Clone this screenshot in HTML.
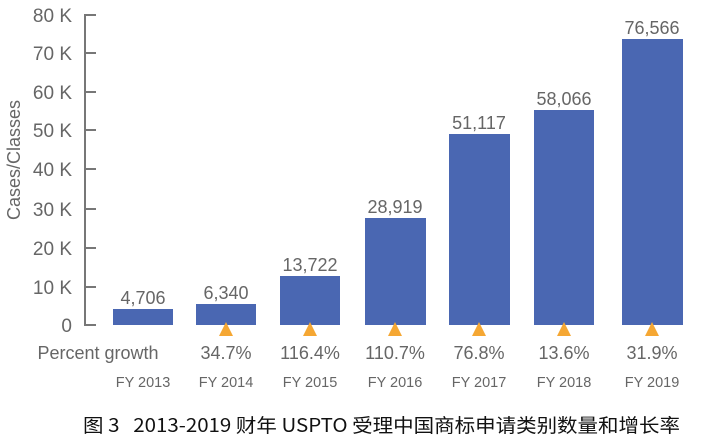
<!DOCTYPE html>
<html><head><meta charset="utf-8"><style>html,body{margin:0;padding:0;background:#fff}svg{display:block}</style></head>
<body>
<svg width="703" height="442" viewBox="0 0 703 442" xmlns="http://www.w3.org/2000/svg">
<g stroke="#777" stroke-width="2">
<line x1="85" y1="14" x2="85" y2="326"/>
<line x1="85" y1="15" x2="96" y2="15"/>
<line x1="85" y1="53" x2="96" y2="53"/>
<line x1="85" y1="92" x2="96" y2="92"/>
<line x1="85" y1="130" x2="96" y2="130"/>
<line x1="85" y1="169" x2="96" y2="169"/>
<line x1="85" y1="209" x2="96" y2="209"/>
<line x1="85" y1="248" x2="96" y2="248"/>
<line x1="85" y1="287" x2="96" y2="287"/>
<line x1="85" y1="325" x2="96" y2="325"/>
</g>
<g font-family="Liberation Sans, sans-serif" font-size="19" fill="#666" text-anchor="end">
<text x="72" y="22">80 K</text><text x="72" y="60">70 K</text><text x="72" y="99">60 K</text>
<text x="72" y="137">50 K</text><text x="72" y="176">40 K</text><text x="72" y="216">30 K</text>
<text x="72" y="255">20 K</text><text x="72" y="294">10 K</text><text x="72" y="332">0</text>
</g>
<text transform="translate(20,160) rotate(-90)" font-family="Liberation Sans, sans-serif" font-size="18" fill="#666" text-anchor="middle">Cases/Classes</text>
<g fill="#4a67b2">
<rect x="113" y="309" width="60" height="16"/>
<rect x="196" y="304" width="60" height="21"/>
<rect x="280" y="276" width="60" height="49"/>
<rect x="365" y="218" width="61" height="107"/>
<rect x="449" y="134" width="61" height="191"/>
<rect x="534" y="110" width="60" height="215"/>
<rect x="622" y="39" width="61" height="286"/>
</g>
<g font-family="Liberation Sans, sans-serif" font-size="18" fill="#666" text-anchor="middle">
<text x="143" y="304">4,706</text><text x="226" y="299">6,340</text><text x="310" y="271">13,722</text>
<text x="395" y="213">28,919</text><text x="479" y="129">51,117</text><text x="564" y="105">58,066</text>
<text x="652" y="34">76,566</text>
</g>
<g fill="#f5a733">
<polygon points="226,322 219,336 233,336"/><polygon points="310,322 303,336 317,336"/>
<polygon points="395,322 388,336 402,336"/><polygon points="479,322 472,336 486,336"/>
<polygon points="564,322 557,336 571,336"/><polygon points="652,322 645,336 659,336"/>
</g>
<g font-family="Liberation Sans, sans-serif" font-size="18" fill="#666" text-anchor="middle">
<text x="98" y="359">Percent growth</text>
<text x="226" y="359">34.7%</text><text x="310" y="359">116.4%</text><text x="395" y="359">110.7%</text>
<text x="479" y="359">76.8%</text><text x="564" y="359">13.6%</text><text x="652" y="359">31.9%</text>
</g>
<g font-family="Liberation Sans, sans-serif" font-size="14.5" fill="#666" text-anchor="middle">
<text x="143" y="387">FY 2013</text><text x="226" y="387">FY 2014</text><text x="310" y="387">FY 2015</text>
<text x="395" y="387">FY 2016</text><text x="479" y="387">FY 2017</text><text x="564" y="387">FY 2018</text>
<text x="652" y="387">FY 2019</text>
</g>
<text x="83" y="432" font-family="WenQuanYi Zen Hei, Noto Sans CJK SC, sans-serif" font-size="19" fill="#111" textLength="597" lengthAdjust="spacingAndGlyphs">图&#160;3&#160;&#160;&#160;2013-2019&#160;财年&#160;USPTO&#160;受理中国商标申请类别数量和增长率</text>
</svg>
</body></html>
